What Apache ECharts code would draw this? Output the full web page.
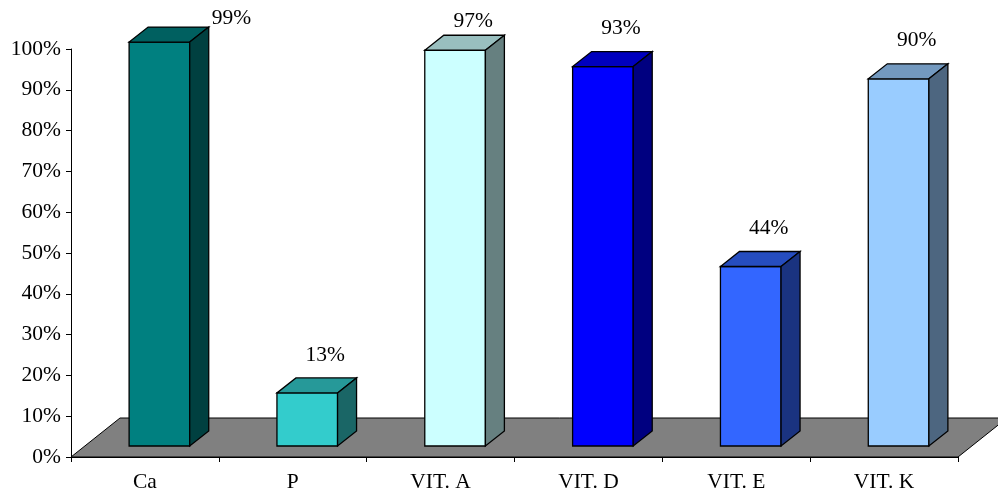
<!DOCTYPE html>
<html>
<head>
<meta charset="utf-8">
<script src="https://cdn.jsdelivr.net/npm/echarts@6/dist/echarts.min.js"></script>
<style>
  html, body { margin: 0; padding: 0; background: #ffffff; }
  #chart { width: 998px; height: 495px; }
</style>
</head>
<body>
<div id="chart"></div>
<script>
// Share of each nutrient (fraction of 1)
const categories = ['Ca', 'P', 'VIT. A', 'VIT. D', 'VIT. E', 'VIT. K'];
const values = [0.99, 0.13, 0.97, 0.93, 0.44, 0.90];
const faceColors = ['#008080', '#33CCCC', '#CCFFFF', '#0000FF', '#3366FF', '#99CCFF'];
const yMin = 0, yMax = 1, yStep = 0.1;

const FONT = '"Liberation Serif", "Times New Roman", serif';
const FONT_SIZE = 21.5;

function shade(hex, f) {
  const n = parseInt(hex.slice(1), 16);
  const r = Math.round(((n >> 16) & 255) * f);
  const g = Math.round(((n >> 8) & 255) * f);
  const b = Math.round((n & 255) * f);
  return 'rgb(' + r + ',' + g + ',' + b + ')';
}
function pct(v) { return Math.round(v * 100) + '%'; }

// 3D projection constants (pixels)
const FLOOR_DX = 49, FLOOR_DY = 39;     // depth of the floor
const BAR_SHIFT_X = 14.5, BAR_SHIFT_Y = 11; // bar front plane inside the floor
const BAR_DX = 19, BAR_DY = 15;         // depth of each bar
const BAR_RATIO = 0.41;                 // bar width / category width

const chart = echarts.init(document.getElementById('chart'), null, { renderer: 'canvas' });

const option = {
  animation: false,
  backgroundColor: '#ffffff',
  grid: { left: 71, right: 40, top: 49, bottom: 38, containLabel: false },
  xAxis: {
    type: 'category',
    data: categories,
    boundaryGap: true,
    axisLine: { show: true, lineStyle: { color: '#000', width: 1 } },
    axisTick: { show: true, length: 5, alignWithLabel: false, lineStyle: { color: '#000' } },
    axisLabel: { color: '#000', fontFamily: FONT, fontSize: FONT_SIZE, margin: 14 },
    splitLine: { show: false }
  },
  yAxis: {
    type: 'value',
    min: yMin, max: yMax, interval: yStep,
    axisLine: { show: true, lineStyle: { color: '#000', width: 1 } },
    axisTick: { show: true, length: 5, lineStyle: { color: '#000' } },
    axisLabel: { color: '#000', fontFamily: FONT, fontSize: FONT_SIZE, margin: 10,
      formatter: v => pct(v) },
    splitLine: { show: false }
  },
  series: [
    {
      // gray floor in perspective
      type: 'custom',
      z: 1,
      clip: false,
      silent: true,
      data: [0],
      renderItem: function (params, api) {
        const cs = params.coordSys;
        const y0 = api.coord([0, 0])[1];
        const xl = cs.x, xr = cs.x + cs.width;
        return {
          type: 'polygon',
          shape: { points: [[xl, y0], [xr, y0], [xr + FLOOR_DX, y0 - FLOOR_DY], [xl + FLOOR_DX, y0 - FLOOR_DY]] },
          style: { fill: '#808080', stroke: '#000', lineWidth: 1 }
        };
      }
    },
    {
      type: 'custom',
      z: 2,
      clip: false,
      data: values.map((v, i) => [i, v]),
      encode: { x: 0, y: 1 },
      renderItem: function (params, api) {
        const i = api.value(0), v = api.value(1);
        const top = api.coord([i, v]);
        const base = api.coord([i, 0]);
        const catW = api.size([1, 0])[0];
        const w = catW * BAR_RATIO;
        const x0 = top[0] + BAR_SHIFT_X - w / 2;
        const x1 = x0 + w;
        const yT = top[1] - BAR_SHIFT_Y;
        const yB = base[1] - BAR_SHIFT_Y;
        const c = faceColors[i];
        const ls = { stroke: '#000', lineWidth: 1.3, lineJoin: 'miter' };
        const children = [
          { type: 'polygon', shape: { points: [[x0, yB], [x1, yB], [x1, yT], [x0, yT]] },
            style: Object.assign({ fill: c }, ls) },
          { type: 'polygon', shape: { points: [[x0, yT], [x1, yT], [x1 + BAR_DX, yT - BAR_DY], [x0 + BAR_DX, yT - BAR_DY]] },
            style: Object.assign({ fill: shade(c, 0.75) }, ls) },
          { type: 'polygon', shape: { points: [[x1, yT], [x1 + BAR_DX, yT - BAR_DY], [x1 + BAR_DX, yB - BAR_DY], [x1, yB]] },
            style: Object.assign({ fill: shade(c, 0.5) }, ls) }
        ];
        // value label above the bar; moved to the side when there is no room above
        const backTop = yT - BAR_DY;
        let ly = Math.max(backTop - 23, 21);
        let lx = (x0 + x1) / 2 + 18;
        let align = 'center';
        if (ly + 10 > backTop) {
          lx = x1 + BAR_DX + 3;
          ly = 18;
          align = 'left';
        }
        children.push({
          type: 'text',
          style: { text: pct(v), x: lx, y: ly, align: align, verticalAlign: 'middle',
            fill: '#000', fontFamily: FONT, fontSize: FONT_SIZE }
        });
        return { type: 'group', children: children };
      }
    }
  ]
};

chart.setOption(option);
</script>
</body>
</html>
